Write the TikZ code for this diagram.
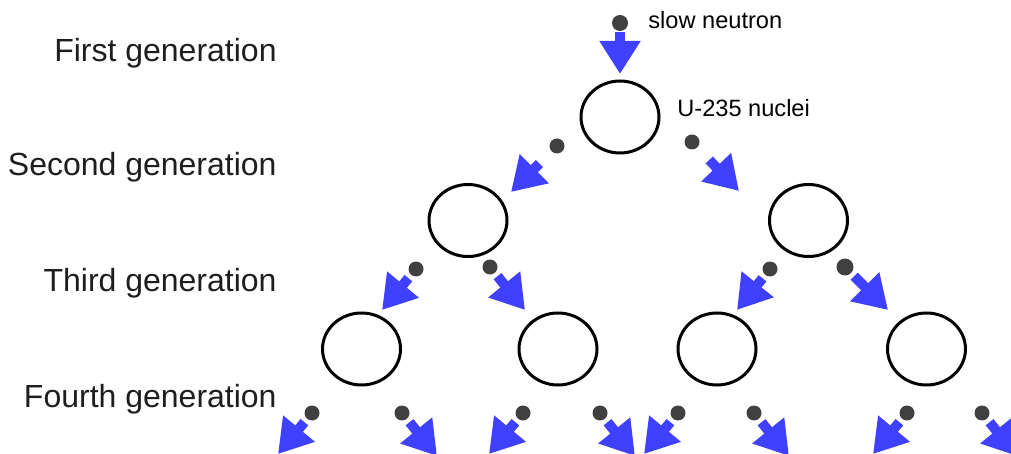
\documentclass[tikz,border=0pt]{standalone}
\usepackage{fontspec}
\setmainfont{Liberation Sans}
\definecolor{chainblue}{HTML}{4040FF}
\definecolor{chaingray}{HTML}{404040}
\definecolor{chaintext}{HTML}{1E1E1E}
\usetikzlibrary{arrows.meta,shapes.geometric}

\begin{document}
\begin{tikzpicture}[
    x=0.5pt, y=-0.5pt,
    nucleus/.style={draw=black, ellipse, line width=1.5pt,
                    minimum width=39pt, minimum height=36pt, inner sep=0pt},
    neutron/.style={circle, fill=chaingray, minimum size=7.5pt, inner sep=0pt},
    gen/.style={anchor=base east, inner sep=0pt, text=chaintext,
                font=\fontsize{16}{19}\selectfont},
    tag/.style={anchor=base west, inner sep=0pt, text=black,
                font=\fontsize{11.8}{14}\selectfont},
    arr/.style={-{Triangle[length=16.5pt, width=19.5pt]}, line width=5pt,
                chainblue, shorten <=2pt},
  ]
  \useasboundingbox (0,0) rectangle (1011,454);
  \clip (0,0) rectangle (1011,454);

  \node[gen] (first)  at (277,62)  {First generation};
  \node[gen] (second) at (277,176) {Second generation};
  \node[gen] (third)  at (277,292) {Third generation};
  \node[gen] (fourth) at (277,407) {Fourth generation};

  \node[nucleus] (u1)  at (620,117)   {};
  \node[nucleus] (u2a) at (468,220.5) {};
  \node[nucleus] (u2b) at (808.5,220.5) {};
  \node[nucleus] (u3a) at (361.5,349) {};
  \node[nucleus] (u3b) at (558,349)   {};
  \node[nucleus] (u3c) at (717,349)   {};
  \node[nucleus] (u3d) at (926.5,349) {};

  \node[tag] (slow)  at (648,29)  {slow neutron};
  \node[tag] (nuclei) at (677,117) {U-235 nuclei};

  \node[neutron, minimum size=8pt] (n0) at (620,23) {};
  \node[neutron] (n1a) at (557,146) {};
  \node[neutron] (n1b) at (692,142) {};
  \node[neutron] (n2a) at (416,269) {};
  \node[neutron] (n2b) at (490,267) {};
  \node[neutron] (n2c) at (770,269) {};
  \node[neutron, minimum size=8.5pt] (n2d) at (845,267) {};
  \node[neutron] (n3a) at (312,413) {};
  \node[neutron] (n3b) at (402,413) {};
  \node[neutron] (n3c) at (523,413) {};
  \node[neutron] (n3d) at (600,413) {};
  \node[neutron] (n3e) at (678,413) {};
  \node[neutron] (n3f) at (754,413) {};
  \node[neutron] (n3g) at (907,413) {};
  \node[neutron] (n3h) at (982,413) {};

  \coordinate (t0)  at (620,74);
  \coordinate (t1a) at (511,192);
  \coordinate (t1b) at (739,191);
  \coordinate (t2a) at (382,310);
  \coordinate (t2b) at (525,310);
  \coordinate (t2c) at (737,310);
  \coordinate (t2d) at (888,310);
  \coordinate (t3a) at (278,454);
  \coordinate (t3b) at (437,456);
  \coordinate (t3c) at (489,454);
  \coordinate (t3d) at (635,456);
  \coordinate (t3e) at (644,454);
  \coordinate (t3f) at (789,456);
  \coordinate (t3g) at (873,454);
  \coordinate (t3h) at (1017,456);

  \draw[arr, shorten <=0.5pt] (n0) -- (t0);
  \draw[arr, shorten <=8.5pt] (n1a) -- (t1a);
  \draw[arr, shorten <=8.5pt] (n1b) -- (t1b);
  \draw[arr] (n2a) -- (t2a);
  \draw[arr] (n2b) -- (t2b);
  \draw[arr] (n2c) -- (t2c);
  \draw[arr] (n2d) -- (t2d);
  \draw[arr] (n3a) -- (t3a);
  \draw[arr] (n3b) -- (t3b);
  \draw[arr] (n3c) -- (t3c);
  \draw[arr] (n3d) -- (t3d);
  \draw[arr] (n3e) -- (t3e);
  \draw[arr] (n3f) -- (t3f);
  \draw[arr] (n3g) -- (t3g);
  \draw[arr] (n3h) -- (t3h);
\end{tikzpicture}
\end{document}
